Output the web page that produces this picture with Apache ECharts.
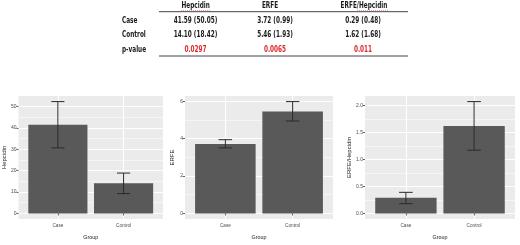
<!DOCTYPE html>
<html><head><meta charset="utf-8">
<style>html,body{margin:0;padding:0;background:#fff}#c{width:520px;height:245px}</style>
<script src="https://cdn.jsdelivr.net/npm/echarts@6.0.0/dist/echarts.min.js"></script>
</head><body><div id="c"></div>
<script>
// ---- data ----
const groups = ['Case', 'Control'];
const hepcidinMean = [41.59, 14.10];
const hepcidinLow = [30.7, 9.3];
const hepcidinHigh = [52.4, 18.9];
const erfeMean = [3.72, 5.46];
const erfeLow = [3.51, 4.95];
const erfeHigh = [3.95, 5.99];
const ratioMean = [0.29, 1.62];
const ratioLow = [0.18, 1.17];
const ratioHigh = [0.39, 2.07];
const hepcidinTicks = [0, 10, 20, 30, 40, 50];
const hepcidinTickLabels = ['0', '10', '20', '30', '40', '50'];
const hepcidinMinor = [5, 15, 25, 35, 45];
const erfeTicks = [0, 2, 4, 6];
const erfeTickLabels = ['0', '2', '4', '6'];
const erfeMinor = [1, 3, 5];
const ratioTicks = [0, 0.5, 1, 1.5, 2];
const ratioTickLabels = ['0.0', '0.5', '1.0', '1.5', '2.0'];
const ratioMinor = [0.25, 0.75, 1.25, 1.75];
const tableHeaders = ['Hepcidin', 'ERFE', 'ERFE/Hepcidin'];
const tableRowLabels = ['Case', 'Control', 'p-value'];
const tableCase = ['41.59 (50.05)', '3.72 (0.99)', '0.29 (0.48)'];
const tableControl = ['14.10 (18.42)', '5.46 (1.93)', '1.62 (1.68)'];
const tablePValues = ['0.0297', '0.0065', '0.011'];

// ---- layout / style ----
const FONT = '"DejaVu Sans Condensed","DejaVu Sans",sans-serif';
const AXFONT = '"Liberation Sans","DejaVu Sans",sans-serif';
const panels = [
  {yName: 'Hepcidin', mean: hepcidinMean, low: hepcidinLow, high: hepcidinHigh, ticks: hepcidinTicks, tickLabels: hepcidinTickLabels, minor: hepcidinMinor, left: 15, width: 148, nameGap: 11},
  {yName: 'ERFE', mean: erfeMean, low: erfeLow, high: erfeHigh, ticks: erfeTicks, tickLabels: erfeTickLabels, minor: erfeMinor, left: 185, width: 148, nameGap: 10},
  {yName: 'ERFE/Hepcidin', mean: ratioMean, low: ratioLow, high: ratioHigh, ticks: ratioTicks, tickLabels: ratioTickLabels, minor: ratioMinor, left: 365, width: 150, nameGap: 12}
];
const catPos = groups.map((g, k) => k + 1);

const grid = [], xAxis = [], yAxis = [], series = [];
panels.forEach((p, i) => {
  const top = Math.max.apply(null, p.high.concat(p.mean));
  const bot = Math.min(0, Math.min.apply(null, p.low));
  const span = top - bot;
  const ymin = bot - 0.05 * span, ymax = top + 0.05 * span;
  grid.push({left: p.left, width: p.width, top: 96, bottom: 20, show: true, backgroundColor: '#EBEBEB', borderWidth: 0});
  xAxis.push({
    type: 'value', gridIndex: i, min: 0.4, max: 2.6,
    axisLine: {show: false},
    axisTick: {show: true, length: 2, lineStyle: {color: '#333', width: 0.8}, customValues: catPos},
    axisLabel: {customValues: catPos, formatter: v => groups[Math.round(v) - 1], fontSize: 4.7, color: '#4D4D4D', margin: 4.5, fontFamily: AXFONT},
    splitLine: {show: true, lineStyle: {color: '#FFFFFF', width: 1}},
    name: 'Group', nameLocation: 'middle', nameGap: 16,
    nameTextStyle: {fontSize: 5.4, color: '#222', fontFamily: AXFONT}
  });
  yAxis.push({
    type: 'value', gridIndex: i, min: ymin, max: ymax,
    axisLine: {show: false},
    axisTick: {show: true, length: 2, lineStyle: {color: '#333', width: 0.8}, customValues: p.ticks},
    axisLabel: {customValues: p.ticks, formatter: v => { const k = p.ticks.findIndex(t => Math.abs(t - v) < 1e-9); return k >= 0 ? p.tickLabels[k] : ''; }, fontSize: 5, color: '#4D4D4D', margin: 2, fontFamily: AXFONT},
    splitLine: {show: true, lineStyle: {color: '#FFFFFF', width: 1}},
    name: p.yName, nameLocation: 'middle', nameGap: p.nameGap, nameRotate: 90,
    nameTextStyle: {fontSize: 6, color: '#222', fontFamily: AXFONT}
  });
  yAxis.push({
    type: 'value', gridIndex: i, min: ymin, max: ymax, position: 'left',
    axisLine: {show: false},
    axisTick: {show: false, customValues: p.minor},
    axisLabel: {show: false, customValues: p.minor},
    splitLine: {show: true, lineStyle: {color: '#FFFFFF', width: 0.5}}
  });
  series.push({
    type: 'bar', xAxisIndex: i, yAxisIndex: 2 * i,
    data: groups.map((g, k) => [catPos[k], p.mean[k]]),
    barWidth: '90%', itemStyle: {color: '#595959'}, silent: true, z: 3
  });
  series.push({
    type: 'custom', xAxisIndex: i, yAxisIndex: 2 * i, z: 4, silent: true,
    data: groups.map((g, k) => [catPos[k], p.low[k], p.high[k]]),
    encode: {x: 0, y: [1, 2]},
    renderItem: (params, api) => {
      const x = api.value(0);
      const lo = api.coord([x, api.value(1)]);
      const hi = api.coord([x, api.value(2)]);
      const hw = api.size([0.2, 0])[0] / 2;
      const st = {stroke: '#2b2b2b', lineWidth: 1};
      return {type: 'group', children: [
        {type: 'line', shape: {x1: lo[0], y1: lo[1], x2: hi[0], y2: hi[1]}, style: st},
        {type: 'line', shape: {x1: lo[0] - hw, y1: lo[1], x2: lo[0] + hw, y2: lo[1]}, style: st},
        {type: 'line', shape: {x1: hi[0] - hw, y1: hi[1], x2: hi[0] + hw, y2: hi[1]}, style: st}
      ]};
    }
  });
});

// ---- table ----
const headX = [195.7, 270, 364];
const colX = [195.5, 275, 363];
const rowY = [20.7, 34.5, 50];
const graphic = [];
const txt = (x, y, s, align, color) => ({type: 'text', x: x, y: y, scaleX: 0.8, silent: true,
  style: {text: s, fontSize: 8, fontWeight: 'bold', fontFamily: FONT, fill: color || '#1a1a1a', align: align, verticalAlign: 'middle'}});
tableHeaders.forEach((h, j) => graphic.push(txt(headX[j], 5.8, h, 'center')));
tableRowLabels.forEach((r, k) => graphic.push(txt(122, rowY[k], r, 'left')));
tableCase.forEach((v, j) => graphic.push(txt(colX[j], rowY[0], v, 'center')));
tableControl.forEach((v, j) => graphic.push(txt(colX[j], rowY[1], v, 'center')));
tablePValues.forEach((v, j) => graphic.push(txt(colX[j], rowY[2], v, 'center', '#dd2a2e')));
graphic.push({type: 'line', silent: true, shape: {x1: 159, y1: 11.7, x2: 408, y2: 11.7}, style: {stroke: '#444', lineWidth: 1}});
graphic.push({type: 'line', silent: true, shape: {x1: 159, y1: 56, x2: 408, y2: 56}, style: {stroke: '#444', lineWidth: 1}});
// spell-check style underlines under "Hepcidin"
graphic.push({type: 'line', silent: true, shape: {x1: 181, y1: 10.3, x2: 210, y2: 10.3}, style: {stroke: '#e07070', lineWidth: 0.7, lineDash: [1, 1]}});
graphic.push({type: 'line', silent: true, shape: {x1: 357, y1: 10.3, x2: 389, y2: 10.3}, style: {stroke: '#e07070', lineWidth: 0.7, lineDash: [1, 1]}});

const chart = echarts.init(document.getElementById('c'), null, {renderer: 'canvas'});
chart.setOption({animation: false, backgroundColor: '#fff', grid, xAxis, yAxis, series, graphic});
</script></body></html>
